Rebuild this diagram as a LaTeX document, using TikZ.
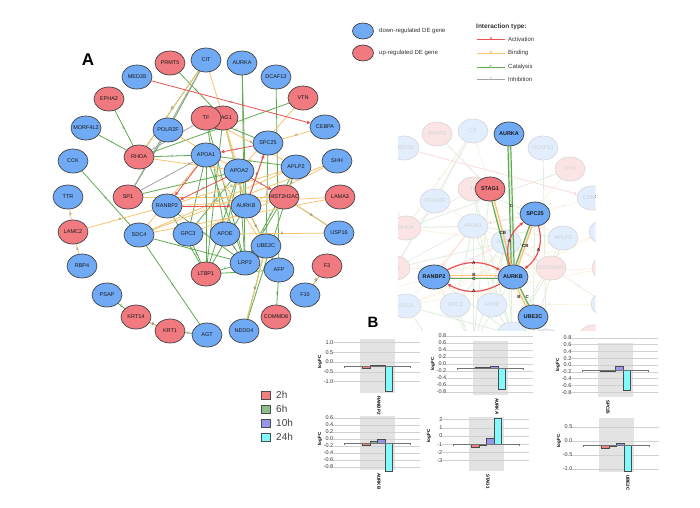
\documentclass[tikz,border=0pt]{standalone}
\usepackage{fontspec}
\setmainfont{Liberation Sans}
\usetikzlibrary{shapes.geometric,arrows.meta}

\definecolor{downblue}{RGB}{112,170,245}
\definecolor{upred}{RGB}{240,122,128}
\definecolor{actred}{RGB}{232,84,84}
\definecolor{bindorange}{RGB}{248,196,112}
\definecolor{catgreen}{RGB}{96,172,80}
\definecolor{inhgray}{RGB}{165,165,165}
\definecolor{bar1}{RGB}{240,128,128}
\definecolor{bar2}{RGB}{140,190,140}
\definecolor{bar3}{RGB}{150,150,235}
\definecolor{bar4}{RGB}{128,250,250}

% genes: name/x/y/regulation
\newcommand{\genes}{PRMT5/170/63/up, CIT/206/60/down, AURKA/242/63/down, DCAF13/276/77/down, MED28/137/77/down, EPHA2/109/99/up, VTN/303/98/up, MORF4L2/86/128/down, STAG1/223/118/up, TF/206/118/up, POLR2F/168/130/down, CEBPA/325/127/down, SPC25/268/143/down, CCK/73/161/down, RHOA/139/157/up, APOA1/206/155/down, SHH/337/161/down, APOA2/239/171/down, APLP2/296/167/down, TTR/68/197/down, SP1/128/197/up, RANBP2/167/206/down, AURKB/246/206/down, HIST2H2AC/284/197/up, LAMA3/340/197/up, LAMC2/73/232/up, SDC4/139/235/down, GPC3/188/234/down, APOE/225/234/down, UBE2C/266/246/down, USP16/339/233/down, LRP2/245/263/down, LTBP1/206/274/up, AFP/279/270/down, F3/327/266/up, RBP4/82/266/down, PSAP/107/295/down, F10/305/295/down, KRT14/136/317/up, COMMD6/276/317/up, KRT1/170/331/up, AGT/207/335/down, NEDD4/244/331/down}

% interactions
\newcommand{\catlinks}{EPHA2/RHOA, MORF4L2/RHOA, CCK/SDC4, SDC4/AGT, PSAP/KRT14, KRT14/KRT1, KRT1/AGT, F3/F10, COMMD6/AFP, NEDD4/UBE2C, AFP/UBE2C, DCAF13/AFP, AURKA/AURKB, AURKA/LRP2, PRMT5/STAG1, VTN/RHOA, CIT/POLR2F, CIT/RHOA, STAG1/AURKB, SPC25/AURKB, RANBP2/AURKB, AURKB/UBE2C, USP16/HIST2H2AC, APOA1/LTBP1, APOA1/GPC3, APOA1/LRP2, APOA2/LRP2, APOA2/APOE, APOA2/GPC3, APOA2/LTBP1, TF/LRP2, TF/APOE, STAG1/LTBP1, POLR2F/SP1, APOA1/RHOA, GPC3/LTBP1, APOE/LRP2, LTBP1/LRP2, LTBP1/AFP, SPC25/UBE2C, APLP2/LRP2, APLP2/APOA1, HIST2H2AC/LRP2, SDC4/LRP2, TF/SPC25, RANBP2/LTBP1, RANBP2/LRP2, SP1/APOA2, AURKB/LTBP1, APLP2/NEDD4}
\newcommand{\bindlinks}{SPC25/CEBPA, SHH/AURKB, LAMA3/RANBP2, LAMA3/SDC4, TTR/LAMC2, LAMC2/RBP4, LAMC2/RANBP2, KRT14/KRT1, F3/F10, USP16/HIST2H2AC, VTN/APOA2, CIT/RHOA, STAG1/AURKB, SPC25/AURKB, RANBP2/AURKB, AURKB/UBE2C, NEDD4/UBE2C, SP1/HIST2H2AC, SDC4/APOA1, SDC4/APLP2, RANBP2/APLP2, GPC3/HIST2H2AC, APOE/USP16, POLR2F/APOA2, APOA1/AFP, RHOA/APOA2, TF/APLP2, CIT/APOA2, SHH/SDC4}
\newcommand{\actlinks}{MED28/CEBPA, APOA1/RANBP2, APOA2/RANBP2, SPC25/APOA1, APOA2/HIST2H2AC, RANBP2/AURKB, AURKB/SPC25}
\newcommand{\inhlinks}{CIT/SP1, APOA1/SP1, TF/RHOA}

% the whole network, #1 = prefix of the node names
\newcommand{\drawnet}[1]{%
  \foreach \g/\x/\y/\t in \genes
    \node[genebox] (#1\g) at (\x,\y) {};
  \foreach \a/\b in \catlinks
    \draw[cat] (#1\a) -- node[elab]{C} (#1\b);
  \foreach \a/\b in \bindlinks
    \draw[bind] (#1\a) -- node[elab]{B} (#1\b);
  \foreach \a/\b in \inhlinks
    \draw[inh] (#1\a) -- node[elab]{I} (#1\b);
  \foreach \a/\b in \actlinks
    \draw[act] (#1\a) -- node[elab]{A} (#1\b);
  \foreach \g/\x/\y/\t in \genes
    \node[style=\t] (#1\g-v) at (#1\g) {\makebox[0pt]{\g}};
}

% one bar chart: #1 left of grey band, #2 axis, #3 pt per unit, #4 shift of labels,
% #5 ticks, #6 bars (2h,6h,10h,24h), #7 gene, #8 x of gene label
\newcommand{\fcchart}[8]{%
  \begin{scope}[shift={(#1,#2)}]
    \fill[black!11] (0,-27) rectangle (35,27);
    \foreach \v/\t [count=\k] in {#5} {
      \draw[gridline] (-27,{-1*((\v)*#3+#4)}) -- (60,{-1*((\v)*#3+#4)});
      \node[ticklab] (fc#7t\k) at (-26,{-1*((\v)*#3+#4)}) {\t};
    }
    \foreach \h [count=\k] in {#6}
      \draw[barline, fill=bar\k] ({2.5+(\k-1)*7.5},0) rectangle ({10+(\k-1)*7.5},{-1*(\h)*#3});
    \draw[axisline] (-16,2) -- (-16,0) -- (50,0) -- (50,2);
    \node[ylab] (fc#7y) at (-40,{-#4}) {logFC};
    \node[genelab] (fc#7g) at (#8,30) {#7};
  \end{scope}}

\tikzset{
  genebox/.style={ellipse, minimum width=30pt, minimum height=24pt, inner sep=0pt},
  gene/.style={genebox, draw=black!75, line width=0.7pt, text=black!90, font=\fontsize{5.5}{6}\selectfont},
  down/.style={gene, fill=downblue},
  up/.style={gene, fill=upred},
  link/.style={line width=0.8pt},
  actline/.style={link, draw=actred},
  act/.style={actline, -{Triangle[length=3.5pt, width=3.2pt]}},
  bind/.style={link, draw=bindorange},
  cat/.style={link, draw=catgreen},
  inh/.style={link, draw=inhgray},
  hot/.style={line width=1.2pt},
  elab/.style={font=\fontsize{3.5}{4}\selectfont, text=black!55, inner sep=0.3pt},
  hlab/.style={font=\bfseries\fontsize{4.5}{5}\selectfont, text=black!85, inner sep=0.3pt},
  keytxt/.style={anchor=west, font=\fontsize{6}{7}\selectfont, text=black!80, inner sep=0pt},
  ticklab/.style={anchor=east, font=\fontsize{5.5}{6}\selectfont, text=black!80, inner sep=0.5pt},
  ylab/.style={rotate=90, font=\bfseries\fontsize{4.5}{5}\selectfont, inner sep=0pt},
  genelab/.style={rotate=-90, anchor=west, font=\bfseries\fontsize{4.5}{5}\selectfont, inner sep=0pt},
  gridline/.style={black!18, line width=0.4pt},
  barline/.style={draw=black!70, line width=0.5pt},
  axisline/.style={black!55, line width=0.5pt},
}

\begin{document}
\begin{tikzpicture}[x=1pt, y=-1pt]
  \path[fill=white] (0,0) rectangle (700,507);
  \useasboundingbox (0,0) rectangle (700,507);

  % A: network
  \node[font=\bfseries\fontsize{17}{17}\selectfont] (labA) at (88,60) {A};
  \drawnet{}

  % legend of the genes
  \node[down, minimum width=21pt, minimum height=16pt] (keyDown) at (363,31) {};
  \node[keytxt] (keyDownTxt) at (379,31) {down-regulated DE gene};
  \node[up, minimum width=21pt, minimum height=16pt] (keyUp) at (363,53) {};
  \node[keytxt] (keyUpTxt) at (379,53) {up-regulated DE gene};

  % legend of the interactions
  \node[keytxt, font=\bfseries\fontsize{6.5}{7}\selectfont] (keyType) at (476,27) {Interaction type:};
  \foreach \s/\l/\txt/\y/\c in {actline/A/Activation/39/actred, bind/B/Binding/53/bindorange, cat/C/Catalysis/67/catgreen, inh/I/Inhibition/79/inhgray} {
    \coordinate (key\l1) at (477,\y);
    \coordinate (key\l2) at (505,\y);
    \draw[style=\s, line width=1pt] (key\l1) -- node[font=\bfseries\fontsize{4.5}{5}\selectfont, text=\c, inner sep=0.3pt]{\l} (key\l2);
    \node[keytxt] (key\l3) at (508,\y) {\txt};
  }

  % zoom on AURKB, the rest faded
  \begin{scope}
    \clip (398,108) rectangle (595,330);
    \begin{scope}[shift={(267,71)}]
      \drawnet{i}
    \end{scope}
    \fill[white, opacity=0.8] (390,100) rectangle (600,335);
  \end{scope}
  \foreach \g in {AURKA, SPC25, RANBP2, AURKB, UBE2C}
    \node[down, font=\bfseries\fontsize{5.5}{6}\selectfont] (h\g) at (i\g) {\g};
  \node[up, font=\bfseries\fontsize{5.5}{6}\selectfont] (hSTAG1) at (iSTAG1) {STAG1};

  \draw[cat, hot, transform canvas={xshift=-1.4pt}] (hAURKA) -- (hAURKB);
  \draw[cat, hot, transform canvas={xshift=1.4pt}] (hAURKA) -- node[hlab, xshift=-1pt]{C} (hAURKB);
  \draw[cat, hot, transform canvas={xshift=-1.4pt}] (hSTAG1) -- (hAURKB);
  \draw[bind, hot, transform canvas={xshift=1.4pt}] (hSTAG1) -- node[hlab]{CB} (hAURKB);
  \draw[cat, hot, transform canvas={xshift=-1.4pt}] (hSPC25) -- (hAURKB);
  \draw[bind, hot, transform canvas={xshift=1.4pt}] (hSPC25) -- node[hlab]{CB} (hAURKB);
  \draw[act, hot] (hAURKB) to[bend left=35] node[hlab]{A} (hSPC25);
  \draw[act, hot] (hSPC25) to[bend left=35] node[hlab]{A} (hAURKB);
  \draw[bind, hot, transform canvas={yshift=1.8pt}] (hRANBP2) -- node[hlab]{B} (hAURKB);
  \draw[cat, hot, transform canvas={yshift=-1.8pt}] (hRANBP2) -- node[hlab]{C} (hAURKB);
  \draw[act, hot] (hRANBP2) to[bend left=28] node[hlab]{A} (hAURKB);
  \draw[act, hot] (hAURKB) to[bend left=28] node[hlab]{A} (hRANBP2);
  \draw[bind, hot, transform canvas={xshift=-1.6pt}] (hAURKB) -- node[hlab, left]{B} (hUBE2C);
  \draw[cat, hot, transform canvas={xshift=1.6pt}] (hAURKB) -- node[hlab, right]{C} (hUBE2C);

  % B: logFC per time point
  \node[font=\bfseries\fontsize{15}{15}\selectfont] (labB) at (373,322) {B};
  \fcchart{360}{366}{19.4}{4}{1/1.0, 0.5/0.5, 0/0.0, -0.5/-0.5, -1/-1.0}{-0.1, 0.05, 0.05, -1.29}{RANBP2}{19}
  \fcchart{473}{368}{35}{4}{0.8/0.8, 0.6/0.6, 0.4/0.4, 0.2/0.2, 0/0.0, -0.2/-0.2, -0.4/-0.4, -0.6/-0.6, -0.8/-0.8}{0.03, 0.01, 0.04, -0.6}{AURKA}{24}
  \fcchart{598}{370}{34}{5}{0.8/0.8, 0.6/0.6, 0.4/0.4, 0.2/0.2, 0/0.0, -0.2/-0.2, -0.4/-0.4, -0.6/-0.6, -0.8/-0.8}{-0.03, -0.03, 0.12, -0.59}{SPC25}{10}
  \fcchart{360}{443}{35}{4}{0.6/0.6, 0.4/0.4, 0.2/0.2, 0/0.0, -0.2/-0.2, -0.4/-0.4, -0.6/-0.6, -0.8/-0.8}{-0.06, 0.06, 0.11, -0.8}{AURKB}{19}
  \fcchart{469}{444}{8.2}{8}{2/2, 1/1, 0/0, -1/-1, -2/-2, -3/-3}{-0.37, -0.12, 0.73, 3.17}{STAG1}{19}
  \fcchart{599}{445}{28}{4}{0.5/0.5, 0/0.0, -0.5/-0.5, -1/-1.0}{-0.12, -0.05, 0.07, -0.93}{UBE2C}{29}

  % legend of the time points
  \foreach \t/\y [count=\k] in {2h/395, 6h/409, 10h/423, 24h/437} {
    \node[draw=black!70, line width=0.5pt, fill=bar\k, minimum width=9pt, minimum height=8pt, inner sep=0pt] (key\t) at (266,\y) {};
    \node[anchor=west, font=\fontsize{10}{11}\selectfont, text=black!75, inner sep=0pt] (keytxt\t) at (276,\y) {\t};
  }
\end{tikzpicture}
\end{document}
